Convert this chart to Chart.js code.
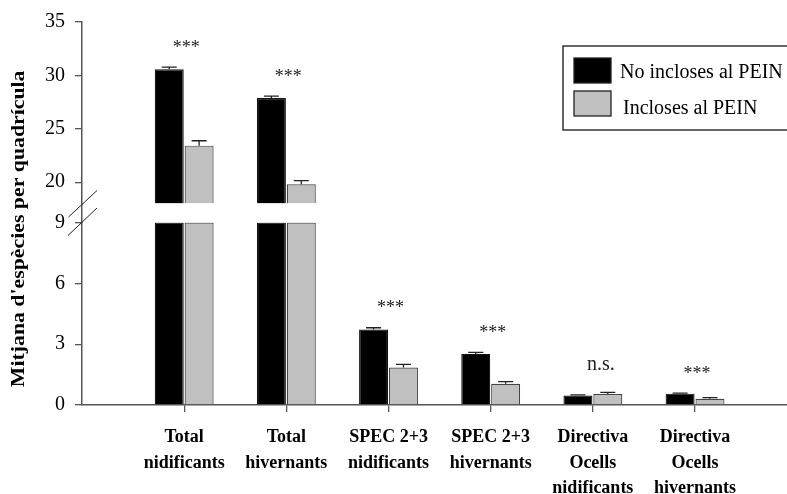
<!DOCTYPE html>
<html><head><meta charset="utf-8">
<script src="https://cdn.jsdelivr.net/npm/chart.js@4.4.1/dist/chart.umd.min.js"></script>
<style>html,body{margin:0;padding:0;background:#fff}#wrap{width:787px;height:494px;position:relative}</style>
</head><body><div id="wrap"><canvas id="c"></canvas></div>
<script>
// ---- data ----
const categories = [
  ['Total', 'nidificants'],
  ['Total', 'hivernants'],
  ['SPEC 2+3', 'nidificants'],
  ['SPEC 2+3', 'hivernants'],
  ['Directiva', 'Ocells', 'nidificants'],
  ['Directiva', 'Ocells', 'hivernants']
];
const seriesNames = ['No incloses al PEIN', 'Incloses al PEIN'];
const noInclososMean = [30.58, 27.88, 3.72, 2.52, 0.47, 0.56];
const noInclososErr  = [0.19, 0.18, 0.09, 0.07, 0.03, 0.03];
const inclososMean   = [23.42, 19.80, 1.85, 1.05, 0.54, 0.31];
const inclososErr    = [0.46, 0.35, 0.15, 0.10, 0.08, 0.05];
const significance   = ['***', '***', '***', '***', 'n.s.', '***'];
const lowerTicks = [0, 3, 6, 9];
const upperTicks = [20, 25, 30, 35];
const breakLow = 9;
const breakHigh = 18;
const axisMax = 35;
const yTitle = "Mitjana d'espècies per quadrícula";

// ---- styling ----
const SERIF = "'Liberation Serif','Times New Roman',serif";
const AXIS = '#555';
const colors = ['#000000', '#c0c0c0'];
const borders = ['#111111', '#444444'];

const lowPart = arr => arr.map((v, i) => ({x: i, y: Math.min(v, breakLow)}));
const highPart = arr => arr.map((v, i) => v > breakHigh ? {x: i, y: [breakHigh, v]} : null).filter(p => p);

function mkSet(idx, data, axis) {
  return {
    label: seriesNames[idx], data, yAxisID: axis, stack: 's' + idx,
    backgroundColor: colors[idx], borderColor: borders[idx], borderWidth: 1.2,
    borderSkipped: 'start', categoryPercentage: 0.585, barPercentage: 0.97
  };
}

const errorBars = {
  id: 'errorBars',
  afterDatasetsDraw(chart) {
    const ctx = chart.ctx;
    const sets = [[noInclososMean, noInclososErr], [inclososMean, inclososErr]];
    const caps = categories.map(() => Infinity);
    ctx.save();
    ctx.strokeStyle = '#222';
    ctx.lineWidth = 1.3;
    sets.forEach(([m, e], s) => {
      m.forEach((v, i) => {
        const sc = v > breakHigh ? chart.scales.yHigh : chart.scales.yLow;
        const el = chart.getDatasetMeta(s).data[i];
        const x = el.x;
        const yTop = sc.getPixelForValue(v);
        const yCap = sc.getPixelForValue(v + e[i]);
        ctx.beginPath();
        ctx.moveTo(x, yTop); ctx.lineTo(x, yCap);
        ctx.moveTo(x - 7.5, yCap); ctx.lineTo(x + 7.5, yCap);
        ctx.stroke();
        caps[i] = Math.min(caps[i], yCap);
      });
    });
    ctx.fillStyle = '#222';
    ctx.textAlign = 'center';
    ctx.textBaseline = 'middle';
    significance.forEach((t, i) => {
      const x = chart.scales.x.getPixelForValue(i);
      ctx.font = (t === 'n.s.' ? '20px ' : '18px ') + SERIF;
      ctx.fillText(t, x + (t === 'n.s.' ? 8 : 2), caps[i] - (t === 'n.s.' ? 28 : 19));
    });
    ctx.restore();
  }
};

const breakMarks = {
  id: 'breakMarks',
  afterDraw(chart) {
    const g = chart.scales.yGap;
    const ctx = chart.ctx;
    const x0 = chart.chartArea.left;
    const mid = (g.top + g.bottom) / 2;
    ctx.save();
    ctx.strokeStyle = '#222';
    ctx.lineWidth = 1;
    ctx.beginPath();
    ctx.moveTo(x0 - 13.5, mid + 4); ctx.lineTo(x0 + 15, mid - 22.5);
    ctx.moveTo(x0 - 14, mid + 22.5); ctx.lineTo(x0 + 15, mid - 5);
    ctx.stroke();
    ctx.restore();
  }
};

const axisTitle = {
  id: 'axisTitle',
  afterDraw(chart) {
    const ctx = chart.ctx;
    const ca = chart.chartArea;
    const cy = ca.top + (ca.bottom - ca.top) * 0.54;
    ctx.save();
    ctx.translate(24, cy);
    ctx.rotate(-Math.PI / 2);
    ctx.scale(1, 0.86);
    ctx.font = 'bold 21.8px ' + SERIF;
    ctx.fillStyle = '#000';
    ctx.textAlign = 'center';
    ctx.textBaseline = 'alphabetic';
    ctx.fillText(yTitle, 0, 0);
    ctx.restore();
  }
};

const boxLegend = {
  id: 'boxLegend',
  afterDraw(chart) {
    const ctx = chart.ctx;
    const ca = chart.chartArea;
    const left = ca.right - 224, top = ca.top + 24;
    ctx.save();
    ctx.strokeStyle = '#333';
    ctx.lineWidth = 1.5;
    ctx.strokeRect(left, top, 260, 84);
    ctx.font = '20px ' + SERIF;
    ctx.textBaseline = 'alphabetic';
    ctx.textAlign = 'left';
    [0, 1].forEach(s => {
      const ds = chart.data.datasets[s];
      const sy = top + 12 + s * 33;
      ctx.fillStyle = ds.backgroundColor;
      ctx.fillRect(left + 11, sy, 37, 25);
      ctx.lineWidth = 1.3;
      ctx.strokeStyle = '#222';
      ctx.strokeRect(left + 11, sy, 37, 25);
      ctx.fillStyle = '#000';
      ctx.fillText(ds.label, left + 57 + s * 3, sy + 19.5 + s * 3.5);
    });
    ctx.restore();
  }
};

const fixW = w => s => { s.width = w; };
const yTickFont = {family: SERIF, size: 20};

new Chart(document.getElementById('c'), {
  type: 'bar',
  data: {
    datasets: [
      mkSet(0, lowPart(noInclososMean), 'yLow'),
      mkSet(1, lowPart(inclososMean), 'yLow'),
      mkSet(0, highPart(noInclososMean), 'yHigh'),
      mkSet(1, highPart(inclososMean), 'yHigh')
    ]
  },
  options: {
    responsive: true,
    maintainAspectRatio: false,
    animation: false,
    layout: {padding: {top: 21, right: 0, bottom: 0, left: 0}},
    plugins: {legend: {display: false}, tooltip: {enabled: false}},
    scales: {
      x: {
        type: 'linear', min: -1, max: 5.9, offset: false,
        afterBuildTicks: s => { s.ticks = categories.map((c, i) => ({value: i})); },
        afterFit: s => { s.height = 89; },
        grid: {display: true, drawOnChartArea: false, drawTicks: true, tickLength: 7, color: AXIS, lineWidth: 1.3, offset: false},
        border: {display: true, color: AXIS, width: 1.5},
        ticks: {
          autoSkip: false, maxRotation: 0, minRotation: 0, padding: 12, color: '#000',
          font: {family: SERIF, size: 18, weight: 'bold', lineHeight: 1.44},
          callback: v => categories[v]
        }
      },
      yLow: {
        type: 'linear', position: 'left', stack: 'v', stackWeight: 183, stacked: false,
        min: 0, max: breakLow,
        afterBuildTicks: s => { s.ticks = lowerTicks.map(v => ({value: v})); },
        afterFit: fixW(82),
        grid: {drawOnChartArea: false, tickLength: 7, color: AXIS, lineWidth: 1.3},
        border: {color: AXIS, width: 1.5},
        ticks: {font: yTickFont, color: '#000', padding: 10}
      },
      yGap: {
        type: 'linear', position: 'left', stack: 'v', stackWeight: 19,
        min: 0, max: 1,
        afterFit: fixW(82),
        grid: {display: false},
        border: {display: true, color: AXIS, width: 1.5},
        ticks: {display: false}
      },
      yHigh: {
        type: 'linear', position: 'left', stack: 'v', stackWeight: 182, stacked: false,
        min: breakHigh, max: axisMax,
        afterBuildTicks: s => { s.ticks = upperTicks.map(v => ({value: v})); },
        afterFit: fixW(82),
        grid: {drawOnChartArea: false, tickLength: 7, color: AXIS, lineWidth: 1.3},
        border: {color: AXIS, width: 1.5},
        ticks: {font: yTickFont, color: '#000', padding: 10}
      }
    }
  },
  plugins: [errorBars, breakMarks, axisTitle, boxLegend]
});
</script>
</body></html>
